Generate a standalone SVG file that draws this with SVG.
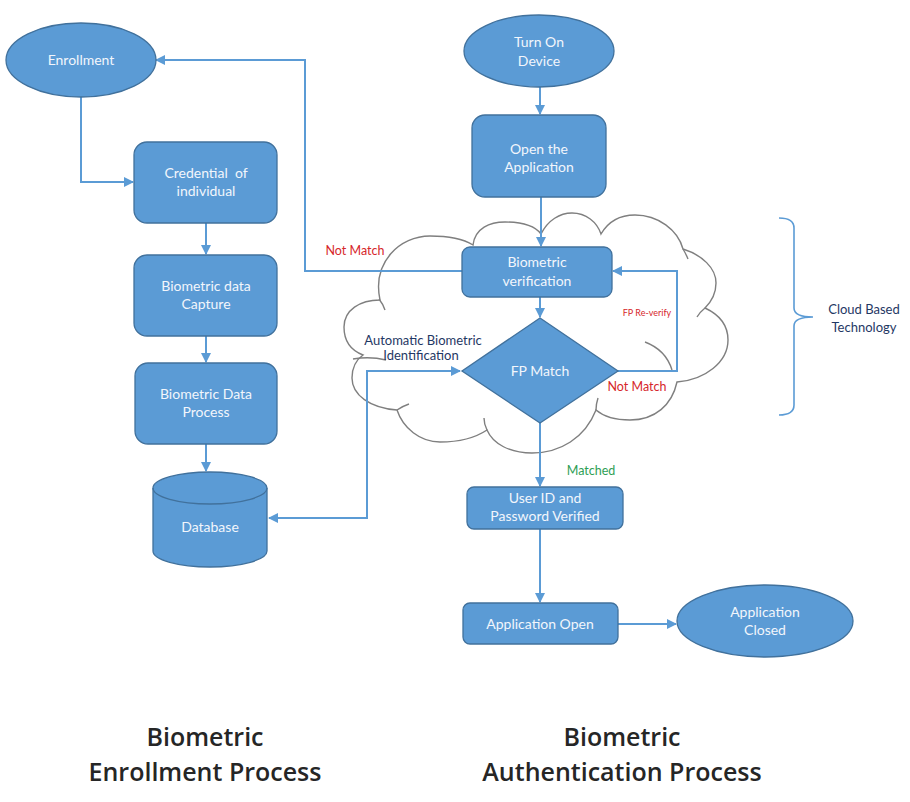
<svg xmlns="http://www.w3.org/2000/svg" width="910" height="802" viewBox="0 0 910 802">
<defs>
<style>
.node{fill:#5B9BD5;stroke:#41719C;stroke-width:1.3}
.nt{font-family:Lato,"Liberation Sans",sans-serif;font-size:14px;fill:#F2F6FC;text-anchor:middle}
.conn{fill:none;stroke:#5B9BD5;stroke-width:2}
.cloud{fill:#FFFFFF;stroke:#7F7F7F;stroke-width:1.4}
.tick{fill:none;stroke:#7F7F7F;stroke-width:1.4}
.red{font-family:Lato,"Liberation Sans",sans-serif;fill:#D6262B;text-anchor:middle}
.navy{font-family:Lato,"Liberation Sans",sans-serif;fill:#1F3864;text-anchor:middle;font-size:13px}
.title{font-family:"Open Sans","Liberation Sans",sans-serif;font-weight:600;font-size:25px;fill:#262626;text-anchor:middle}
</style>
<marker id="arr" viewBox="0 0 10 10" refX="9" refY="5" markerWidth="5" markerHeight="5" orient="auto-start-reverse" markerUnits="strokeWidth">
<path d="M0,0 L10,5 L0,10 z" fill="#5B9BD5"/>
</marker>
</defs>
<rect width="910" height="802" fill="#FFFFFF"/>

<g id="cloud">
<path class="cloud" d="M380,300 C372,262 400,236 430,236 C450,236 465,240 473,245 C475,228 490,222 505,222 C522,222 535,226 541,234 C548,220 560,213 572,213 C586,213 597,222 601,234 C608,222 620,215 635,215 C658,215 678,230 683,249 C702,255 716,268 716,283 C716,293 711,302 705,308 C720,315 728,325 728,340 C728,362 705,380 677,382 C672,405 655,420 630,420 C615,420 603,416 596,410 C585,438 560,453 532,453 C510,453 493,444 487,430 C475,438 458,442 440,442 C420,442 403,428 397,410 C370,408 352,395 352,378 C352,368 356,360 363,355 C350,350 344,340 344,327 C344,310 360,300 380,300 Z"/>
<path class="tick" d="M379,299 Q383,304 385,310"/>
<path class="tick" d="M683,249 Q686,254 688,259"/>
<path class="tick" d="M705,308 Q700,312 697,317"/>
<path class="tick" d="M645,342 Q666,350 672,370"/>
<path class="tick" d="M596,410 Q596,404 598,398"/>
<path class="tick" d="M487,430 Q484,424 484,418"/>
<path class="tick" d="M397,410 Q403,406 409,404"/>
<path class="tick" d="M353,359 Q370,356 386,360"/>
</g>

<g id="connectors">
<path class="conn" d="M81,97 V182 H133" marker-end="url(#arr)"/>
<path class="conn" d="M206,223 V254" marker-end="url(#arr)"/>
<path class="conn" d="M206,336 V362" marker-end="url(#arr)"/>
<path class="conn" d="M206,444 V471" marker-end="url(#arr)"/>
<path class="conn" d="M540,87 V114" marker-end="url(#arr)"/>
<path class="conn" d="M541,197 V246" marker-end="url(#arr)"/>
<path class="conn" d="M540,297 V317" marker-end="url(#arr)"/>
<path class="conn" d="M462,271 H305 V60 H156" marker-end="url(#arr)"/>
<path class="conn" d="M618,371 H677 V271 H613" marker-end="url(#arr)"/>
<path class="conn" d="M269,518 H367 V371 H460" marker-start="url(#arr)" marker-end="url(#arr)"/>
<path class="conn" d="M540,423 V486" marker-end="url(#arr)"/>
<path class="conn" d="M540,529 V602" marker-end="url(#arr)"/>
<path class="conn" d="M618,624 H676" marker-end="url(#arr)"/>
</g>

<g id="enrollment">
<ellipse class="node" cx="81" cy="60" rx="75" ry="37"/>
<text class="nt" x="81" y="65">Enrollment</text>
</g>
<g id="credential">
<rect class="node" x="134" y="142" width="143" height="81" rx="13"/>
<text class="nt" x="206" y="178" xml:space="preserve">Credential  of</text>
<text class="nt" x="206" y="196">individual</text>
</g>
<g id="capture">
<rect class="node" x="134" y="255" width="143" height="81" rx="13"/>
<text class="nt" x="206" y="291">Biometric data</text>
<text class="nt" x="206" y="309">Capture</text>
</g>
<g id="process">
<rect class="node" x="135" y="363" width="142" height="81" rx="13"/>
<text class="nt" x="206" y="399">Biometric Data</text>
<text class="nt" x="206" y="417">Process</text>
</g>
<g id="database">
<path class="node" d="M153,488 V551 A57,16 0 0 0 267,551 V488 A57,16 0 0 0 153,488 Z"/>
<path fill="none" stroke="#41719C" stroke-width="1.3" d="M153,488 A57,16 0 0 0 267,488"/>
<text class="nt" x="210" y="532">Database</text>
</g>

<g id="turn-on">
<ellipse class="node" cx="539" cy="51" rx="75" ry="36"/>
<text class="nt" x="539" y="47">Turn On</text>
<text class="nt" x="539" y="66">Device</text>
</g>
<g id="open-app">
<rect class="node" x="472" y="115" width="134" height="82" rx="13"/>
<text class="nt" x="539" y="154">Open the</text>
<text class="nt" x="539" y="172">Application</text>
</g>
<g id="bio-verif">
<rect class="node" x="462" y="247" width="150" height="50" rx="8"/>
<text class="nt" x="537" y="267">Biometric</text>
<text class="nt" x="537" y="286">verification</text>
</g>
<g id="fp-match">
<path class="node" d="M540,318 L618,371 L540,423 L462,371 Z"/>
<text class="nt" x="540" y="376">FP Match</text>
</g>
<g id="user-id">
<rect class="node" x="467" y="487" width="156" height="42" rx="7"/>
<text class="nt" x="545" y="503">User ID and</text>
<text class="nt" x="545" y="521">Password Verified</text>
</g>
<g id="app-open">
<rect class="node" x="463" y="603" width="155" height="41" rx="7"/>
<text class="nt" x="540" y="629">Application Open</text>
</g>
<g id="app-closed">
<ellipse class="node" cx="765" cy="621" rx="88" ry="36"/>
<text class="nt" x="765" y="617">Application</text>
<text class="nt" x="765" y="635">Closed</text>
</g>

<g id="labels">
<text class="red" x="355" y="255" font-size="12.5">Not Match</text>
<text class="red" x="647" y="316" font-size="9">FP Re-verify</text>
<text class="red" x="637" y="391" font-size="12.5">Not Match</text>
<text class="navy" x="423" y="345">Automatic Biometric</text>
<text class="navy" x="421" y="360">Identification</text>
<text x="591" y="475" font-family="Lato,'Liberation Sans',sans-serif" font-size="12.5" fill="#2E9E55" text-anchor="middle">Matched</text>
</g>

<g id="brace">
<path fill="none" stroke="#5B9BD5" stroke-width="1.6" d="M779,218 Q794,218 794,228 V308 Q794,317 813,317 Q794,317 794,326 V405 Q794,415 779,415"/>
<text class="navy" x="864" y="314">Cloud Based</text>
<text class="navy" x="864" y="332">Technology</text>
</g>

<g id="titles">
<text class="title" x="205" y="746">Biometric</text>
<text class="title" x="205" y="781">Enrollment Process</text>
<text class="title" x="622" y="746">Biometric</text>
<text class="title" x="622" y="781">Authentication Process</text>
</g>
</svg>
